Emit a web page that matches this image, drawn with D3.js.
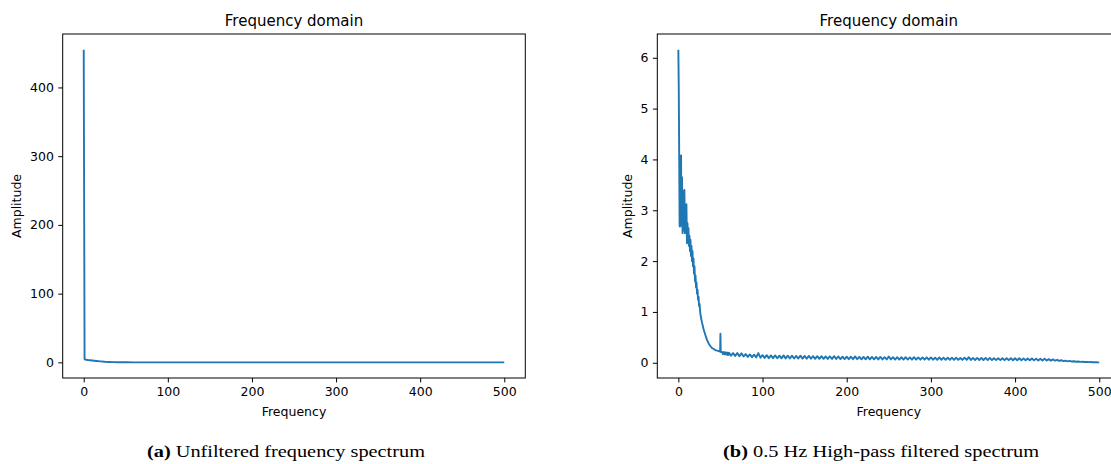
<!DOCTYPE html>
<html lang="en">
<head>
<meta charset="UTF-8">
<title>Frequency domain spectra</title>
<script src="https://d3js.org/d3.v7.min.js"></script>
<style>
    body { margin: 0; background: white; overflow: hidden; }
    .tick text { font-family: "DejaVu Sans", sans-serif; font-size: 12.5px; fill: #000; }
    .tick line { stroke: #000; stroke-width: 1; }
    .label { font-family: "DejaVu Sans", sans-serif; font-size: 12.5px; fill: #000; }
    .title { font-family: "DejaVu Sans", sans-serif; font-size: 15px; fill: #000; }
    .caption { font-family: "Liberation Serif", "Times New Roman", serif; font-size: 17.5px; fill: #000; }
</style>
</head>
<body>
<svg id="chart" width="1111" height="464"></svg>
<script>
// panel (a): unfiltered spectrum
var leftFreq = [0, 1, 3, 5, 10, 15, 20, 25, 30, 35, 40, 50, 60, 100, 200, 300, 400, 500];
var leftAmp  = [455, 4.5, 3.8, 3.4, 2.7, 2.0, 1.4, 0.9, 0.6, 0.35, 0.2, 0.1, 0.05, 0.03, 0.02, 0.01, 0.01, 0];

// panel (b): 0.5 Hz high-pass filtered spectrum
var rightFreq = [0, 0.5, 1, 1.5, 2, 2.6, 3.2, 3.8, 4.4, 5, 5.6, 6, 6.6, 7.2, 7.8, 8.4, 9, 9.6,
    10.2, 10.8, 11.4, 12, 12.6, 13.2, 13.8, 14.4, 15, 15.6, 16.2, 16.8, 17.4, 18, 18.6, 19.2, 19.8,
    20.4, 21, 21.6, 22.2, 22.8, 23.4, 24, 24.6, 25.2, 26, 27, 28, 30, 32, 34, 36, 38, 40, 42, 44, 46, 48,
    49.6, 50, 50.4, 52, 53, 54, 55, 56, 57, 58, 59,
    60, 62.5, 65, 67.5, 70, 72.5, 75, 77.5,
    80, 82.5, 85, 87.5, 90, 92.5, 95, 97.5,
    100, 102.5, 105, 107.5, 110, 112.5, 115, 117.5,
    120, 122.5, 125, 127.5, 130, 132.5, 135, 137.5,
    140, 142.5, 145, 147.5, 150, 152.5, 155, 157.5,
    160, 162.5, 165, 167.5, 170, 172.5, 175, 177.5,
    180, 182.5, 185, 187.5, 190, 192.5, 195, 197.5,
    200, 202.5, 205, 207.5, 210, 212.5, 215, 217.5,
    220, 222.5, 225, 227.5, 230, 232.5, 235, 237.5,
    240, 242.5, 245, 247.5, 250, 252.5, 255, 257.5,
    260, 262.5, 265, 267.5, 270, 272.5, 275, 277.5,
    280, 282.5, 285, 287.5, 290, 292.5, 295, 297.5,
    300, 302.5, 305, 307.5, 310, 312.5, 315, 317.5,
    320, 322.5, 325, 327.5, 330, 332.5, 335, 337.5,
    340, 342.5, 345, 347.5, 350, 352.5, 355, 357.5,
    360, 362.5, 365, 367.5, 370, 372.5, 375, 377.5,
    380, 382.5, 385, 387.5, 390, 392.5, 395, 397.5,
    400, 402.5, 405, 407.5, 410, 412.5, 415, 417.5,
    420, 422.5, 425, 427.5, 430, 432.5, 435, 437.5,
    440, 442.5, 445, 447.5, 450, 452.5, 455, 457.5,
    460, 462.5, 465, 467.5, 470, 472.5, 475, 477.5,
    480, 482.5, 485, 487.5, 490, 492.5, 495, 497.5,
    500];
var rightAmp = [6.16, 5.4, 4.1, 2.7, 2.68, 4.05, 4.08, 2.7, 3.65, 2.55, 3.1, 3.37, 2.6, 3.4, 2.55, 3.1, 2.7, 3.12,
    2.35, 2.75, 2.4, 2.65, 2.3, 2.5, 2.2, 2.42, 2.1, 2.3, 2.0, 2.2, 1.9, 2.05, 1.75, 1.9, 1.6,
    1.72, 1.48, 1.58, 1.36, 1.44, 1.24, 1.3, 1.12, 1.16, 0.98, 0.88, 0.8, 0.66, 0.55, 0.45, 0.38, 0.33, 0.29, 0.27, 0.25, 0.24, 0.23,
    0.22, 0.57, 0.21, 0.215, 0.17, 0.21, 0.165, 0.205, 0.16, 0.2, 0.15,
    0.2, 0.14, 0.19, 0.135, 0.19, 0.13, 0.185, 0.125,
    0.17, 0.115, 0.165, 0.11, 0.16, 0.105, 0.19, 0.1,
    0.15, 0.095, 0.15, 0.09, 0.145, 0.09, 0.145, 0.088,
    0.14, 0.087, 0.145, 0.086, 0.14, 0.085, 0.14, 0.084,
    0.135, 0.083, 0.14, 0.082, 0.135, 0.08, 0.135, 0.08,
    0.13, 0.078, 0.13, 0.078, 0.13, 0.077, 0.125, 0.076,
    0.125, 0.075, 0.13, 0.074, 0.125, 0.073, 0.12, 0.072,
    0.12, 0.071, 0.12, 0.07, 0.125, 0.07, 0.115, 0.069,
    0.115, 0.068, 0.12, 0.068, 0.115, 0.067, 0.115, 0.066,
    0.115, 0.066, 0.11, 0.065, 0.125, 0.065, 0.11, 0.064,
    0.11, 0.064, 0.11, 0.063, 0.11, 0.063, 0.105, 0.062,
    0.11, 0.062, 0.105, 0.061, 0.105, 0.061, 0.105, 0.06,
    0.105, 0.06, 0.1, 0.059, 0.105, 0.059, 0.1, 0.058,
    0.1, 0.058, 0.1, 0.057, 0.1, 0.057, 0.095, 0.056,
    0.1, 0.056, 0.11, 0.055, 0.095, 0.055, 0.095, 0.054,
    0.095, 0.054, 0.095, 0.053, 0.095, 0.053, 0.09, 0.052,
    0.09, 0.052, 0.09, 0.051, 0.09, 0.051, 0.09, 0.05,
    0.09, 0.05, 0.088, 0.049, 0.086, 0.049, 0.085, 0.048,
    0.085, 0.047, 0.082, 0.046, 0.08, 0.045, 0.078, 0.044,
    0.072, 0.042, 0.066, 0.04, 0.058, 0.036, 0.05, 0.032,
    0.042, 0.028, 0.036, 0.024, 0.03, 0.02, 0.025, 0.017,
    0.02, 0.014, 0.017, 0.012, 0.014, 0.01, 0.011, 0.009,
    0.008];

var xTicks = [0, 100, 200, 300, 400, 500];
var leftYTicks = [0, 100, 200, 300, 400];
var rightYTicks = [0, 1, 2, 3, 4, 5, 6];

var svg = d3.select("#chart");

function drawPanel(opts) {
    var x0 = opts.left, x1 = opts.right, y0 = 34, y1 = 378;
    var g = svg.append("g");

    // matplotlib style 5% margins
    var xExt = d3.extent(opts.freq), yExt = d3.extent(opts.amp);
    var xPad = (xExt[1] - xExt[0]) * 0.05, yPad = (yExt[1] - yExt[0]) * 0.05;
    var x = d3.scaleLinear().domain([xExt[0] - xPad, xExt[1] + xPad]).range([x0, x1]);
    var y = d3.scaleLinear().domain([yExt[0] - yPad, yExt[1] + yPad]).range([y1, y0]);

    var pts = opts.freq.map(function (f, i) { return [f, opts.amp[i]]; });
    g.append("path")
        .datum(pts)
        .attr("fill", "none")
        .attr("stroke", "#1f77b4")
        .attr("stroke-width", 1.9)
        .attr("stroke-linejoin", "round")
        .attr("d", d3.line().x(function (d) { return x(d[0]); }).y(function (d) { return y(d[1]); }));

    var xa = g.append("g").attr("transform", "translate(0," + y1 + ")")
        .call(d3.axisBottom(x).tickValues(xTicks).tickSize(4.4).tickPadding(4.4).tickFormat(d3.format("d")));
    xa.select(".domain").remove();

    var ya = g.append("g").attr("transform", "translate(" + x0 + ",0)")
        .call(d3.axisLeft(y).tickValues(opts.yTicks).tickSize(4.4).tickPadding(4.4).tickFormat(d3.format("d")));
    ya.select(".domain").remove();

    g.append("rect")
        .attr("x", x0).attr("y", y0)
        .attr("width", x1 - x0).attr("height", y1 - y0)
        .attr("fill", "none").attr("stroke", "#000").attr("stroke-width", 1);

    g.append("text").attr("class", "title")
        .attr("x", (x0 + x1) / 2).attr("y", 26)
        .attr("text-anchor", "middle").text("Frequency domain");

    g.append("text").attr("class", "label")
        .attr("x", (x0 + x1) / 2).attr("y", 415.5)
        .attr("text-anchor", "middle").text("Frequency");

    g.append("text").attr("class", "label")
        .attr("transform", "translate(" + opts.ylabelX + "," + (y0 + y1) / 2 + ") rotate(-90)")
        .attr("text-anchor", "middle").text("Amplitude");

    var cap = g.append("text").attr("class", "caption")
        .attr("x", opts.capX).attr("y", 457).attr("text-anchor", "middle")
        .attr("textLength", opts.capWidth).attr("lengthAdjust", "spacingAndGlyphs");
    cap.append("tspan").attr("font-weight", "bold").text(opts.capTag);
    cap.append("tspan").text(" " + opts.capText);
}

drawPanel({
    left: 62.7, right: 525.3, freq: leftFreq, amp: leftAmp, yTicks: leftYTicks,
    ylabelX: 20.5, capX: 286, capWidth: 278, capTag: "(a)", capText: "Unfiltered frequency spectrum"
});
drawPanel({
    left: 657.3, right: 1120.3, freq: rightFreq, amp: rightAmp, yTicks: rightYTicks,
    ylabelX: 632, capX: 881, capWidth: 316, capTag: "(b)", capText: "0.5 Hz High-pass filtered spectrum"
});
</script>
</body>
</html>
